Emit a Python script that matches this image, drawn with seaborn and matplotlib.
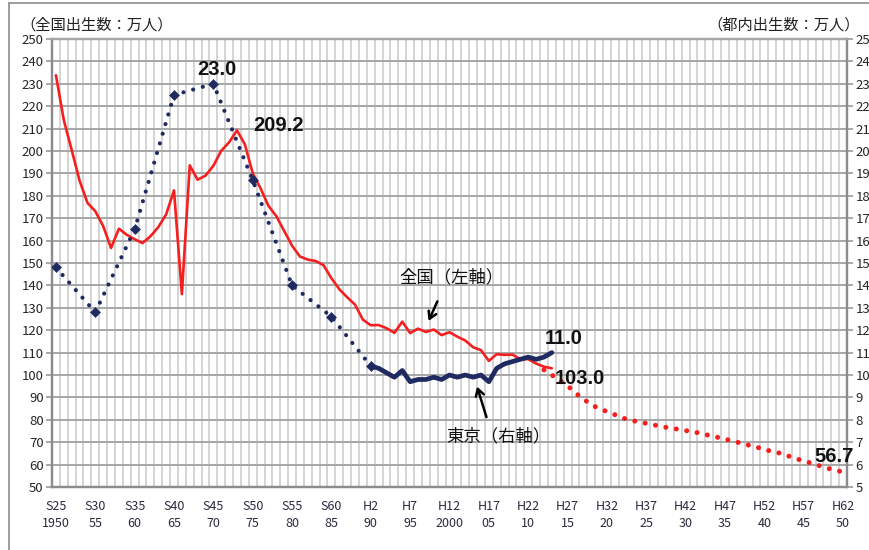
import matplotlib
matplotlib.use("Agg")
import numpy as np
import pandas as pd
import matplotlib.pyplot as plt
import seaborn as sns

# national births (万人), actual 1950-2013
years_nat = list(range(1950, 2014))
births_nat = [233.8, 213.8, 200.5, 186.8, 176.9, 173.1, 166.5, 156.7, 165.3, 162.6,
              160.6, 158.9, 161.9, 166.0, 171.7, 182.4, 136.1, 193.6, 187.2, 189.0,
              193.4, 200.1, 203.9, 209.2, 203.0, 190.1, 183.3, 175.5, 170.9, 164.3,
              157.7, 152.9, 151.5, 150.9, 149.0, 143.2, 138.3, 134.7, 131.4, 124.7,
              122.2, 122.3, 120.9, 118.8, 123.8, 118.7, 120.7, 119.2, 120.3, 117.8,
              119.1, 117.1, 115.4, 112.4, 111.1, 106.3, 109.3, 109.0, 109.1, 107.0,
              107.1, 105.1, 103.7, 103.0]

# national projection (万人), 2012-2050
years_proj = list(range(2012, 2051))
births_proj = [102.3, 100.0, 97.5, 95.2, 92.0, 89.3, 86.8, 85.0, 83.7, 82.3,
               80.8, 79.8, 79.1, 78.4, 77.7, 76.9, 76.4, 75.8, 75.2, 74.6,
               73.9, 73.0, 72.2, 71.4, 70.5, 69.6, 68.7, 67.8, 66.8, 65.8,
               65.1, 63.9, 62.7, 61.6, 60.6, 59.5, 58.4, 57.5, 56.7]

# Tokyo births (万人), every 5 years 1950-1990, then annual 1990-2013
years_tk5 = [1950, 1955, 1960, 1965, 1970, 1975, 1980, 1985, 1990]
births_tk5 = [14.8, 12.8, 16.5, 22.5, 23.0, 18.7, 14.0, 12.6, 10.4]
years_tk = list(range(1990, 2014))
births_tk = [10.4, 10.3, 10.1, 9.9, 10.2, 9.7, 9.8, 9.8, 9.9, 9.8, 10.0, 9.9,
             10.0, 9.9, 10.0, 9.7, 10.3, 10.5, 10.6, 10.7, 10.8, 10.7, 10.8, 11.0]

tick_years = list(range(1950, 2051, 5))
tick_labels = ["S25\n1950", "S30\n55", "S35\n60", "S40\n65", "S45\n70", "S50\n75",
               "S55\n80", "S60\n85", "H2\n90", "H7\n95", "H12\n2000", "H17\n05",
               "H22\n10", "H27\n15", "H32\n20", "H37\n25", "H42\n30", "H47\n35",
               "H52\n40", "H57\n45", "H62\n50"]

RED = "#f41f1f"
NAVY = "#1f2a60"

sns.set_style("white")
plt.rcParams["font.family"] = ["Noto Sans CJK JP", "DejaVu Sans"]

fig = plt.figure(figsize=(8.7, 5.5), dpi=100)
ax = fig.add_axes([52 / 870, 1 - 487 / 550, 795 / 870, 448 / 550])
ax2 = ax.twinx()

# grid
for yr in np.arange(1949.5, 2051, 1):
    ax.axvline(yr, color="#d4d4d4", lw=1.4, zorder=0)
for v in range(50, 251, 10):
    ax.axhline(v, color="#a6a6a6", lw=1.4, zorder=0)

nat = pd.DataFrame({"year": years_nat, "births": births_nat})
proj = pd.DataFrame({"year": years_proj, "births": births_proj})
tk5 = pd.DataFrame({"year": years_tk5, "births": births_tk5})
tk = pd.DataFrame({"year": years_tk, "births": births_tk})

sns.lineplot(data=proj, x="year", y="births", ax=ax, color=RED, lw=3.6,
             linestyle=(0, (0.01, 2.1)), dash_capstyle="round", zorder=3)
sns.lineplot(data=nat, x="year", y="births", ax=ax, color=RED, lw=1.9, zorder=4)

sns.lineplot(data=tk5, x="year", y="births", ax=ax2, color=NAVY, lw=3.0,
             linestyle=(0, (0.01, 2.4)), dash_capstyle="round", zorder=3)
sns.scatterplot(data=tk5, x="year", y="births", ax=ax2, color=NAVY, marker="D",
                s=26, edgecolor=NAVY, zorder=5)
sns.lineplot(data=tk, x="year", y="births", ax=ax2, color=NAVY, lw=3.4, zorder=4)

ax.set_xlim(1949.5, 2050.5)
ax.set_ylim(50, 250)
ax2.set_ylim(5, 25)
ax.set_yticks(range(50, 251, 10))
ax2.set_yticks(range(5, 26, 1))
ax.set_xticks(tick_years)
ax.set_xticklabels(tick_labels, fontsize=9, color="#2a2a40", linespacing=1.45)
ax.set_xticks(np.arange(1949.5, 2051, 1), minor=True)
ax.tick_params(axis="x", which="major", length=0, pad=9)
ax.tick_params(axis="x", which="minor", length=4, width=1.2, color="#999999", direction="out")
ax.tick_params(axis="y", length=4, width=1.2, color="#999999", labelsize=9.5, pad=2)
ax2.tick_params(axis="y", length=4, width=1.2, color="#999999", labelsize=9.5, pad=2)
ax.set_xlabel("")
ax.set_ylabel("")
ax2.set_ylabel("")

for a in (ax, ax2):
    for s in a.spines.values():
        s.set_color("#8c8c8c")
        s.set_linewidth(1.6)
    a.spines["top"].set_color("#a6a6a6")

# axis titles
fig.text(20 / 870, 1 - 25 / 550, "（全国出生数：万人）", fontsize=11, va="center", ha="left",
         color="#222222")
fig.text(860 / 870, 1 - 25 / 550, "（都内出生数：万人）", fontsize=11, va="center", ha="right",
         color="#222222")

# value labels (drawn on the twin axes so they sit above its spine)
lab = dict(fontsize=14.5, fontweight="bold", color="#111111", ha="center", va="center",
           family=["Liberation Sans", "DejaVu Sans"], transform=ax.transData, zorder=10,
           clip_on=False)
ax2.text(1970.5, 236.5, "23.0", **lab)
ax2.text(1978.3, 211.5, "209.2", **lab)
ax2.text(2014.5, 116.5, "11.0", **lab)
ax2.text(2016.5, 98.5, "103.0", **lab)
ax2.text(2048.9, 63.5, "56.7", **lab)

# series labels with arrows
ax.text(2000.2, 143.5, "全国（左軸）", fontsize=12.5, ha="center", va="center", color="#111111")
ax.annotate("", xy=(1997.2, 123.0), xytext=(1998.6, 134.0),
            arrowprops=dict(arrowstyle="->,head_length=0.5,head_width=0.3", color="black", lw=1.8))
ax.text(2006.2, 72.5, "東京（右軸）", fontsize=12.5, ha="center", va="center", color="#111111")
ax.annotate("", xy=(2003.4, 96.0), xytext=(2004.8, 80.0),
            arrowprops=dict(arrowstyle="->,head_length=0.5,head_width=0.3", color="black", lw=1.8))

# outer frame of chart
fig.add_artist(plt.Line2D([9 / 870, 9 / 870], [0, 1 - 3 / 550], color="#8c8c8c", lw=1.2,
                          transform=fig.transFigure))
fig.add_artist(plt.Line2D([9 / 870, 1], [1 - 3 / 550, 1 - 3 / 550], color="#8c8c8c", lw=1.2,
                          transform=fig.transFigure))

fig.savefig("out.png", dpi=100)
